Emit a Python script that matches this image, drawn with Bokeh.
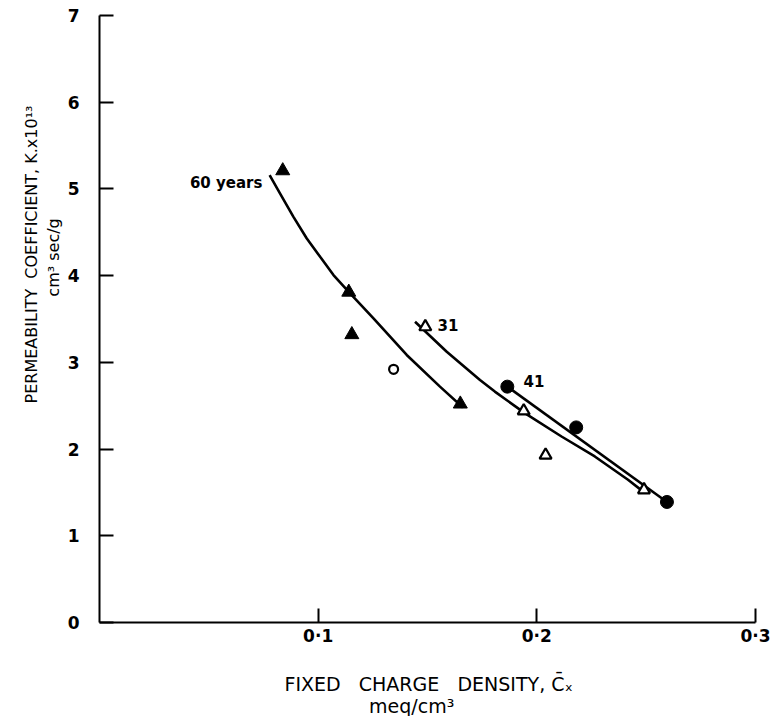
from bokeh.plotting import figure
from bokeh.models import LinearAxis, FixedTicker, Range1d, Label, Title
from bokeh.embed import file_html
from bokeh.resources import INLINE

# ---- data ----
# 60 years (filled triangles)
y60_x = [0.0838, 0.1140, 0.1154, 0.1650]
y60_y = [5.21, 3.81, 3.32, 2.52]
# 31 years (open triangles)
y31_x = [0.1490, 0.1940, 0.2040, 0.2490]
y31_y = [3.41, 2.44, 1.93, 1.53]
# 41 years (filled circles)
y41_x = [0.1865, 0.2180, 0.2595]
y41_y = [2.72, 2.25, 1.39]
# single open circle
oc_x = [0.1345]
oc_y = [2.92]

# hand-drawn curves, read point by point
c60_x = [0.0778, 0.0826, 0.0887, 0.0948, 0.1009, 0.1070, 0.1146, 0.1253, 0.1405,
         0.1557, 0.1662]
c60_y = [5.158, 4.947, 4.678, 4.429, 4.217, 4.007, 3.796, 3.508, 3.085,
         2.720, 2.480]
c31_x = [0.1443, 0.1588, 0.1740, 0.1808, 0.1945, 0.2113, 0.2265, 0.2417, 0.2485]
c31_y = [3.469, 3.123, 2.796, 2.663, 2.414, 2.145, 1.915, 1.646, 1.512]
c41_x = [0.1865, 0.2595]
c41_y = [2.72, 1.39]

x_ticks = [0.1, 0.2, 0.3]
x_tick_labels = {0.1: "0·1", 0.2: "0·2", 0.3: "0·3"}
y_ticks = [0, 1, 2, 3, 4, 5, 6, 7]

FONT = "DejaVu Sans"
NB = "\u00a0"
SP2 = " " + NB          # visible double space
SP3 = " " + NB + NB     # visible triple space

p = figure(width=771, height=716, output_backend="svg", toolbar_location=None,
           x_range=Range1d(0, 0.3), y_range=Range1d(0, 7),
           x_axis_location=None, y_axis_location=None,
           min_border_left=99, min_border_right=16, min_border_top=15, min_border_bottom=93)
p.outline_line_color = None
p.grid.visible = False
p.background_fill_color = "white"

xaxis = LinearAxis(ticker=FixedTicker(ticks=x_ticks), major_label_overrides=x_tick_labels)
yaxis = LinearAxis(ticker=FixedTicker(ticks=y_ticks))
for ax in (xaxis, yaxis):
    ax.axis_line_color = "black"
    ax.axis_line_width = 2
    ax.major_tick_line_color = "black"
    ax.major_tick_line_width = 2
    ax.major_tick_in = 14
    ax.major_tick_out = 0
    ax.minor_tick_line_color = None
    ax.major_label_text_font = FONT
    ax.major_label_text_font_style = "bold"
    ax.major_label_text_font_size = "17px"
    ax.major_label_text_color = "black"
xaxis.major_label_standoff = 3
yaxis.major_label_standoff = 20
p.add_layout(xaxis, "below")
p.add_layout(yaxis, "left")

# axis titles: two lines each (lines are left-aligned inside the block)
ytitle = ("PERMEABILITY" + SP2 + "COEFFICIENT, K.x10\u00b9\u00b3\n"
          + NB * 21 + "cm\u00b3 sec/g")
# a blank first line keeps the x title further below the tick labels
xtitle = (NB + "\n"
          + "FIXED" + SP3 + "CHARGE" + SP3 + "DENSITY, C\u0304\u2093\n"
          + NB * 14 + "meq/cm\u00b3")
p.add_layout(Title(text=ytitle, align="right", offset=90, standoff=3, text_font=FONT,
                   text_font_size="16px", text_font_style="normal", text_color="black",
                   text_line_height=1.15, vertical_align="bottom"), "left")
p.add_layout(Title(text=xtitle, align="left", offset=185, standoff=0, text_font=FONT,
                   text_font_size="19px", text_font_style="normal", text_color="black",
                   text_line_height=1.0, vertical_align="bottom"), "below")

# curves
lw = 2.6
p.line(c60_x, c60_y, line_color="black", line_width=lw)
p.line(c31_x, c31_y, line_color="black", line_width=lw)
p.line(c41_x, c41_y, line_color="black", line_width=lw)

# markers
p.scatter(y60_x, y60_y, marker="triangle", size=14, fill_color="black", line_color="black")
p.scatter(y31_x, y31_y, marker="triangle", size=12, fill_color="white", line_color="black", line_width=2.2)
p.scatter(y41_x, y41_y, marker="circle", size=13, fill_color="black", line_color="black")
p.scatter(oc_x, oc_y, marker="circle", size=9, fill_color="white", line_color="black", line_width=2.2)

def lab(x, y, text, size="15px", align="left"):
    p.add_layout(Label(x=x, y=y, text=text, text_font=FONT, text_font_size=size,
                       text_font_style="bold", text_align=align, text_baseline="middle",
                       text_color="black"))

# curve labels
lab(0.0745, 5.07, "60 years", align="right")
lab(0.1546, 3.43, "31")
lab(0.1939, 2.79, "41")

open("out.html", "w").write(file_html(p, INLINE))
